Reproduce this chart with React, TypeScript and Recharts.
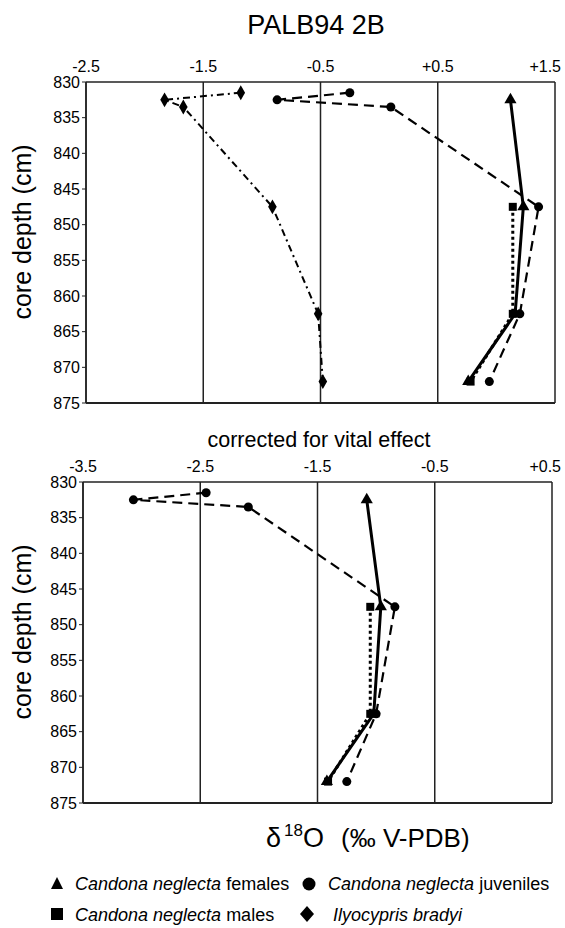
import React from 'react';
import { ScatterChart, Scatter, XAxis, YAxis, ZAxis, CartesianGrid, ReferenceLine } from 'recharts';

// depths (cm)
const depthsJuv = [831.5, 832.5, 833.5, 847.5, 862.5, 872];
const depthsIlyo = [831.5, 832.5, 833.5, 847.5, 862.5, 872];
const depthsFem = [832.5, 847.5, 862.5, 872];
const depthsMale = [847.5, 862.5, 872];

// measured d18O (top panel)
const juvTop = [-0.25, -0.87, 0.1, 1.36, 1.2, 0.94];
const ilyoTop = [-1.18, -1.83, -1.67, -0.91, -0.52, -0.48];
const femTop = [1.12, 1.23, 1.16, 0.76];
const maleTop = [1.14, 1.14, 0.78];

// corrected for vital effect (bottom panel)
const juvBot = [-2.45, -3.07, -2.09, -0.84, -1.0, -1.25];
const femBot = [-1.08, -0.96, -1.02, -1.42];
const maleBot = [-1.05, -1.05, -1.41];

const topTicks = [-2.5, -1.5, -0.5, 0.5, 1.5];
const botTicks = [-3.5, -2.5, -1.5, -0.5, 0.5];
const depthTicks = [830, 835, 840, 845, 850, 855, 860, 865, 870, 875];

const FONT = '"Liberation Sans", Arial, sans-serif';

const mk = (vals: number[], depths: number[]) => vals.map((v, i) => ({ x: v, depth: depths[i] }));
const fmt = (v: number) => (v > 0 ? '+' + v : String(v));

type Series = { data: { x: number; depth: number }[]; shape: any; dash?: string; width: number };

function makeXTick(ticks: number[]) {
  const last = ticks[ticks.length - 1];
  return (p: any) => {
    const v = p.payload.value;
    const isLast = v === last;
    return (
      <text
        x={isLast ? 561 : p.x}
        y={p.y}
        textAnchor={isLast ? 'end' : 'middle'}
        fontSize={16}
        fontFamily={FONT}
        fill="#000"
      >
        {fmt(v)}
      </text>
    );
  };
}

function Panel(props: {
  top: number;
  ticks: number[];
  series: Series[];
  margin: { top: number; left: number; right: number; bottom: number };
}) {
  const { ticks, series, margin } = props;
  return (
    <div style={{ position: 'absolute', left: 0, top: props.top }}>
      <ScatterChart width={565} height={420} margin={margin}>
        <CartesianGrid horizontal={false} vertical={true} stroke="#222" strokeWidth={1.5} />
        <XAxis
          type="number"
          dataKey="x"
          orientation="top"
          domain={[ticks[0], ticks[ticks.length - 1]]}
          ticks={ticks}
          tickLine={false}
          tickSize={6}
          tickMargin={4}
          axisLine={{ stroke: '#222', strokeWidth: 1.5 }}
          tick={makeXTick(ticks)}
          height={30}
          interval={0}
          allowDataOverflow
        />
        <YAxis
          type="number"
          dataKey="depth"
          reversed
          domain={[830, 875]}
          ticks={depthTicks}
          width={60}
          tickSize={4}
          tickMargin={2}
          interval={0}
          tickLine={{ stroke: '#222' }}
          axisLine={{ stroke: '#222', strokeWidth: 1.5 }}
          tick={{ fill: '#000', fontSize: 16, fontFamily: FONT }}
          allowDataOverflow
        />
        <ZAxis range={[70, 70]} />
        <ReferenceLine y={875} stroke="#222" strokeWidth={2} />
        {series.map((s, i) => (
          <Scatter
            key={i}
            data={s.data}
            shape={s.shape}
            fill="#000"
            line={{ stroke: '#000', strokeWidth: s.width, strokeDasharray: s.dash }}
            lineType="joint"
            isAnimationActive={false}
          />
        ))}
      </ScatterChart>
    </div>
  );
}

export default function App() {
  const topSeries: Series[] = [
    { data: mk(ilyoTop, depthsIlyo), shape: 'diamond', dash: '7 4 2 4', width: 2 },
    { data: mk(juvTop, depthsJuv), shape: 'circle', dash: '10 6', width: 2.2 },
    { data: mk(maleTop, depthsMale), shape: 'square', dash: '3 3', width: 3 },
    { data: mk(femTop, depthsFem), shape: 'triangle', width: 3 },
  ];
  const botSeries: Series[] = [
    { data: mk(juvBot, depthsJuv), shape: 'circle', dash: '10 6', width: 2.2 },
    { data: mk(maleBot, depthsMale), shape: 'square', dash: '3 3', width: 3 },
    { data: mk(femBot, depthsFem), shape: 'triangle', width: 3 },
  ];
  return (
    <div style={{ position: 'absolute', left: 0, top: 0, width: 565, height: 928, background: '#fff', overflow: 'hidden' }}>
      <Panel top={0} ticks={topTicks} series={topSeries} margin={{ top: 52, left: 26, right: 10, bottom: 17 }} />
      <Panel top={400} ticks={botTicks} series={botSeries} margin={{ top: 52, left: 23, right: 13, bottom: 17 }} />
      <svg
        width={565}
        height={928}
        style={{ position: 'absolute', left: 0, top: 0, pointerEvents: 'none' }}
        fontFamily={FONT}
      >
        <text x={316} y={34} textAnchor="middle" fontSize={27} fill="#000">PALB94 2B</text>
        <text x={319} y={447} textAnchor="middle" fontSize={21.5} fill="#000">corrected for vital effect</text>
        <text transform="translate(31,232) rotate(-90)" textAnchor="middle" fontSize={25} fill="#000">core depth (cm)</text>
        <text transform="translate(31,632) rotate(-90)" textAnchor="middle" fontSize={25} fill="#000">core depth (cm)</text>
        <text x={266} y={847} fontSize={27} fill="#000">
          δ<tspan dx={3} dy={-11} fontSize={17}>18</tspan><tspan dy={11} fontSize={27}>O</tspan>
          <tspan x={341} fontSize={26}>(‰ V-PDB)</tspan>
        </text>
        {/* legend */}
        <polygon points="57,877 63,889 51,889" fill="#000" />
        <text x={75} y={890} fontSize={18} fill="#000"><tspan fontStyle="italic">Candona neglecta</tspan> females</text>
        <circle cx={309} cy={884} r={6.5} fill="#000" />
        <text x={328} y={890} fontSize={18} fill="#000"><tspan fontStyle="italic">Candona neglecta</tspan> juveniles</text>
        <rect x={51} y={908} width={12} height={12} fill="#000" />
        <text x={75} y={921} fontSize={18} fill="#000"><tspan fontStyle="italic">Candona neglecta</tspan> males</text>
        <polygon points="307,906 314,914 307,922 300,914" fill="#000" />
        <text x={333} y={921} fontSize={18} fill="#000" fontStyle="italic">Ilyocypris bradyi</text>
      </svg>
    </div>
  );
}
